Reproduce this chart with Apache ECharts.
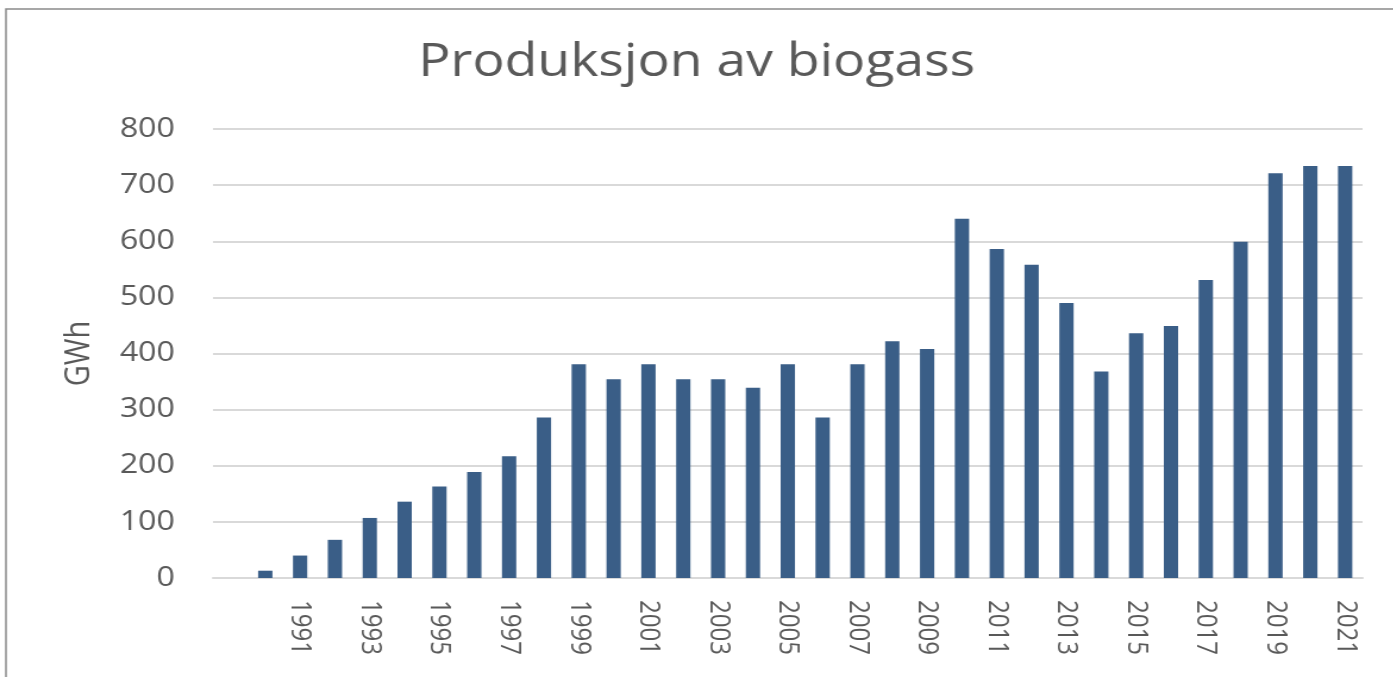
<!DOCTYPE html>
<html>
<head>
<meta charset="utf-8">
<script src="https://cdn.jsdelivr.net/npm/echarts@6/dist/echarts.min.js"></script>
<style>
  html, body { margin: 0; padding: 0; background: #fff; overflow: hidden; }
  /* originalbildet er strukket ca. 1.19x i bredden */
  #chart { width: 1171px; height: 677px; transform: scaleX(1.19); transform-origin: 0 0; }
</style>
</head>
<body>
<div id="chart"></div>
<script>
// Produksjon av biogass, GWh per år (første kategori er tom, som i originalen)
var years = ['', '1990', '1991', '1992', '1993', '1994', '1995', '1996', '1997', '1998', '1999',
  '2000', '2001', '2002', '2003', '2004', '2005', '2006', '2007', '2008', '2009',
  '2010', '2011', '2012', '2013', '2014', '2015', '2016', '2017', '2018', '2019',
  '2020', '2021'];
var gwh = [null, 13, 40, 68, 107, 136, 163, 189, 217, 286, 381,
  354, 381, 354, 354, 339, 381, 286, 381, 422, 408,
  640, 586, 558, 490, 368, 436, 449, 531, 599, 721,
  734, 734];

var textColor = '#595959';
var font = '"Open Sans", sans-serif';

var option = {
  animation: false,
  backgroundColor: '#fff',
  title: {
    text: 'Produksjon av biogass',
    left: 'center',
    top: 36,
    textStyle: {
      color: textColor,
      fontFamily: font,
      fontWeight: 'normal',
      fontSize: 45
    }
  },
  grid: {
    left: 179,
    right: 26,
    top: 129,
    bottom: 99
  },
  xAxis: {
    type: 'category',
    data: years,
    axisTick: { show: false },
    axisLine: { lineStyle: { color: '#d9d9d9', width: 2 } },
    axisLabel: {
      interval: 1,
      rotate: -90,
      margin: 22,
      color: textColor,
      fontFamily: font,
      fontSize: 24
    }
  },
  yAxis: {
    type: 'value',
    min: 0,
    max: 800,
    interval: 100,
    name: 'GWh',
    nameLocation: 'middle',
    nameGap: 98,
    nameRotate: 90,
    nameTextStyle: {
      color: textColor,
      fontFamily: font,
      fontSize: 29
    },
    axisLine: { show: false },
    axisTick: { show: false },
    splitLine: { lineStyle: { color: '#d9d9d9', width: 2 } },
    axisLabel: {
      margin: 32,
      color: textColor,
      fontFamily: font,
      fontSize: 27
    }
  },
  graphic: [{
    type: 'rect',
    shape: { x: 5, y: 9, width: 1300, height: 800 },
    style: { fill: 'none', stroke: '#8a8a8a', lineWidth: 1.5 },
    silent: true
  }],
  series: [{
    type: 'bar',
    data: gwh,
    barWidth: 12,
    itemStyle: { color: '#3a5e87' }
  }]
};

echarts.init(document.getElementById('chart')).setOption(option);
</script>
</body>
</html>
